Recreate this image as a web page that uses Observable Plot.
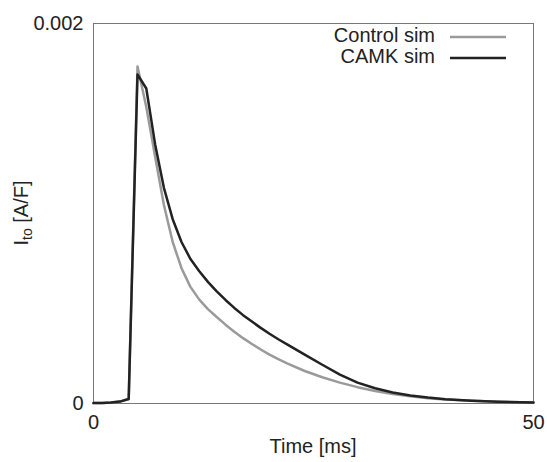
<!DOCTYPE html>
<html>
<head>
<meta charset="utf-8">
<script src="https://cdn.jsdelivr.net/npm/d3@7"></script>
<script src="https://cdn.jsdelivr.net/npm/@observablehq/plot@0.6"></script>
<style>
  html, body { margin: 0; padding: 0; background: #fff; }
  #chart { width: 547px; height: 462px; }
</style>
</head>
<body>
<div id="chart"></div>
<script>
// Time samples [ms]
const time = [0, 1, 2, 3, 4, 5, 6, 7, 8, 9, 10, 11, 12, 13, 14, 15, 16, 17, 18, 19, 20, 21, 22, 24, 26, 28, 30, 32, 34, 36, 38, 40, 43, 46, 50];
// Ito [A/F], Control simulation
const controlSim = [0.000002, 0.000003, 0.000005, 0.00001, 0.000024, 0.001774, 0.00156, 0.0013, 0.001045, 0.00085, 0.000712, 0.000615, 0.000548, 0.000497, 0.000455, 0.000415, 0.000378, 0.000344, 0.000313, 0.000284, 0.000257, 0.000233, 0.000211, 0.000171, 0.000138, 0.00011, 0.000086, 0.000066, 0.00005, 0.000038, 0.000028, 0.000021, 0.000014, 0.000009, 0.000005];
// Ito [A/F], CAMK simulation
const camkSim = [0.000002, 0.000003, 0.000005, 0.00001, 0.000024, 0.001732, 0.001658, 0.001365, 0.001135, 0.00097, 0.00085, 0.000762, 0.000697, 0.00064, 0.00059, 0.000545, 0.000503, 0.000465, 0.000431, 0.000398, 0.000367, 0.000338, 0.000311, 0.000257, 0.000204, 0.000152, 0.00011, 0.00008, 0.000058, 0.000042, 0.000031, 0.000023, 0.000015, 0.000009, 0.000005];
const seriesNames = ["Control sim", "CAMK sim"];
const seriesColors = ["#9a9a9a", "#222222"];
const xTicks = [0, 50];
const yTicks = [0, 0.002];

const controlData = time.map((t, i) => ({t, v: controlSim[i]}));
const camkData = time.map((t, i) => ({t, v: camkSim[i]}));

const W = 547, H = 462;
const mL = 93, mR = 14, mT = 23, mB = 59;

const chart = Plot.plot({
  width: W,
  height: H,
  marginLeft: mL,
  marginRight: mR,
  marginTop: mT,
  marginBottom: mB,
  style: {fontFamily: "'Liberation Sans', Arial, Helvetica, sans-serif", fontSize: "20px", color: "#222", background: "#fff"},
  x: {domain: [0, 50]},
  y: {domain: [0, 0.002]},
  marks: [
    Plot.frame({stroke: "#777", strokeWidth: 1}),
    Plot.axisX({ticks: xTicks, tickSize: 0, tickPadding: 11, tickFormat: d => String(d), label: null, fontSize: 20}),
    Plot.axisY({ticks: yTicks, tickSize: 0, tickPadding: 10, tickFormat: d => String(d), label: null, fontSize: 20}),
    Plot.line(controlData, {x: "t", y: "v", stroke: seriesColors[0], strokeWidth: 2.5}),
    Plot.line(camkData, {x: "t", y: "v", stroke: seriesColors[1], strokeWidth: 2.5})
  ]
});
document.getElementById("chart").appendChild(chart);

const svg = d3.select(chart);
const font = "'Liberation Sans', Arial, Helvetica, sans-serif";

// x-axis title
svg.append("text")
  .attr("x", mL + (W - mL - mR) / 2)
  .attr("y", 448)
  .attr("text-anchor", "middle")
  .attr("dominant-baseline", "middle")
  .attr("font-family", font).attr("font-size", 20).attr("fill", "#222")
  .text("Time [ms]");

// y-axis title with subscript
const yt = svg.append("text")
  .attr("transform", `translate(23,${mT + (H - mT - mB) / 2}) rotate(-90)`)
  .attr("text-anchor", "middle")
  .attr("dominant-baseline", "middle")
  .attr("font-family", font).attr("font-size", 20).attr("fill", "#222");
yt.append("tspan").text("I");
yt.append("tspan").attr("font-size", 14).attr("dy", 5).text("to");
yt.append("tspan").attr("dy", -5).text(" [A/F]");

// legend
const legY = [37, 58];
seriesNames.forEach((name, i) => {
  svg.append("text")
    .attr("x", 435).attr("y", legY[i])
    .attr("text-anchor", "end")
    .attr("dominant-baseline", "middle")
    .attr("font-family", font).attr("font-size", 20).attr("fill", "#222")
    .text(name);
  svg.append("line")
    .attr("x1", 450).attr("x2", 506)
    .attr("y1", legY[i]).attr("y2", legY[i])
    .attr("stroke", seriesColors[i]).attr("stroke-width", 2.5);
});
</script>
</body>
</html>
